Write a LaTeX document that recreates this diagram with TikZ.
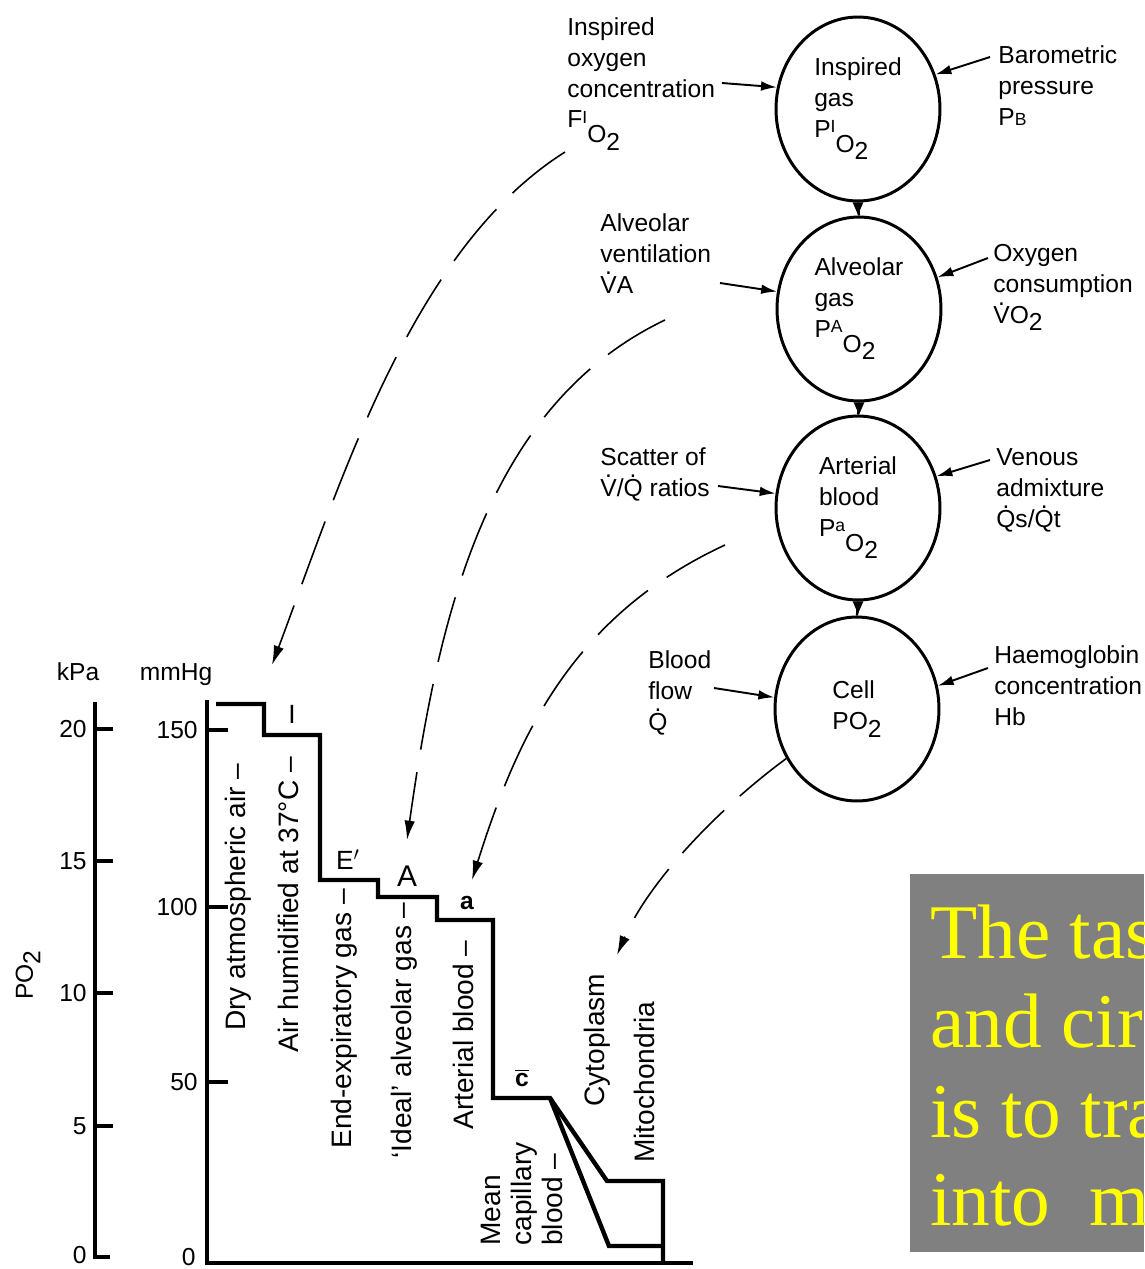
\documentclass[tikz,border=0pt]{standalone}
\usepackage{fontspec}
\setmainfont{Liberation Sans}
\newfontfamily\yelserif{Liberation Serif}
\usetikzlibrary{arrows.meta,shapes.geometric}
\definecolor{boxgray}{RGB}{128,128,128}
\definecolor{yeltext}{RGB}{255,255,0}
\newcommand{\dt}[1]{\ooalign{#1\cr\hidewidth\smash{\raisebox{0.74em}{.}}\hidewidth\cr}}
\newcommand{\Otwo}{O\raisebox{-0.3em}{2}}
\newcommand{\lowOtwo}{\raisebox{-0.6em}{\Otwo}}
\newcommand{\smc}[1]{{\fontsize{10}{10}\selectfont #1}}
\newcommand{\smcup}[1]{\raisebox{2.8pt}{\smc{#1}}}
\begin{document}
\begin{tikzpicture}[x=0.02cm,y=-0.02cm,
  lab/.style={font=\fontsize{14}{17.6}\selectfont, align=left, anchor=north west, inner sep=0pt},
  rlab/.style={font=\fontsize{16}{17}\selectfont, rotate=90, anchor=west, inner sep=0pt},
  tick/.style={font=\fontsize{14}{16}\selectfont, anchor=east, inner sep=0pt},
  steplab/.style={font=\fontsize{15}{16}\selectfont, inner sep=0pt},
  bubble/.style={ellipse, draw, line width=1.7pt, minimum width=3.28cm, minimum height=3.68cm, inner sep=0pt,
     font=\fontsize{14}{17.6}\selectfont, align=left},
  inarrow/.style={line width=1.1pt, -{Latex[length=9pt,width=5.5pt]}},
  dcurve/.style={line width=0.9pt, dash pattern=on 38pt off 13pt, -{Latex[length=11pt,width=6pt]}},
  axis/.style={line width=2pt},
  stair/.style={line width=2.5pt, line join=miter}
]
\useasboundingbox (0,0) rectangle (1144,1269);

% ---------- bubbles ----------
\node[bubble] (c1) at (858,109) {Inspired\\gas\\P\smcup{I}\lowOtwo};
\node[bubble] (c2) at (859,309) {Alveolar\\gas\\P\smcup{A}\lowOtwo};
\node[bubble] (c3) at (858,508) {Arterial\\blood\\P\raisebox{3pt}{\smc{a}}\lowOtwo};
\node[bubble] (c4) at (857,709) {Cell\\P\Otwo};

\foreach \a/\b in {c1/c2,c2/c3,c3/c4}{
  \draw[line width=1.3pt] (\a.south) -- (\b.north);
  \fill ([xshift=-3pt]\a.south) -- ([xshift=3pt]\a.south) -- ([yshift=-7pt]\a.south) -- cycle;
}

% ---------- side labels ----------
\node[lab] (fio) at (567,17) {Inspired\\oxygen\\concentration\\F\smcup{I}\lowOtwo};
\node[lab] (pb) at (998,45) {Barometric\\pressure\\P\smc{B}};
\node[lab] (va) at (600,213) {Alveolar\\ventilation\\\dt{V}A};
\node[lab] (vo) at (993,244) {Oxygen\\consumption\\\dt{V}\Otwo};
\node[lab] (vq) at (600,447) {Scatter of\\\dt{V}/\dt{Q} ratios};
\node[lab] (qs) at (996,448) {Venous\\admixture\\\dt{Q}s/\dt{Q}t};
\node[lab] (bf) at (648,650) {Blood\\flow\\\dt{Q}};
\node[lab] (hb) at (994,645) {Haemoglobin\\concentration\\Hb};

\coordinate (a1) at (722,83);
\coordinate (a2) at (990,57);
\coordinate (a3) at (720,283);
\coordinate (a4) at (988,258);
\coordinate (a5) at (718,486);
\coordinate (a6) at (990,460);
\coordinate (a7) at (714,688);
\coordinate (a8) at (988,668);
\draw[inarrow] (a1) -- (c1.165);
\draw[inarrow] (a2) -- (c1.24);
\draw[inarrow] (a3) -- (c2.168);
\draw[inarrow] (a4) -- (c2.22);
\draw[inarrow] (a5) -- (c3.170);
\draw[inarrow] (a6) -- (c3.22);
\draw[inarrow] (a7) -- (c4.172);
\draw[inarrow] (a8) -- (c4.16);

% ---------- axes ----------
\node[font=\fontsize{14}{16}\selectfont, inner sep=0pt] (kpa) at (78,672) {kPa};
\node[font=\fontsize{14}{16}\selectfont, inner sep=0pt] (mmhg) at (176,675) {mmHg};
\node[font=\fontsize{14}{16}\selectfont, rotate=90, inner sep=0pt] (po2) at (28,975) {P\Otwo};

\draw[axis] (95,702) -- (95,1257) -- (110,1257);
\foreach \yy/\lab in {729/20,861/15,993/10,1126/5}{
  \draw[axis] (95,\yy) -- (113,\yy);
  \node[tick] at (87,\yy) {\lab};
}
\node[tick] at (87,1255) {0};

\draw[axis] (207,700) -- (207,1263) -- (693,1263);
\foreach \yy/\lab in {730/150,907/100,1082/50}{
  \draw[axis] (207,\yy) -- (228,\yy);
  \node[tick] at (198,\yy) {\lab};
}
\node[tick] at (196,1257) {0};

% ---------- staircase ----------
\draw[stair] (216,704) -- (264,704) -- (264,735) -- (320,735) -- (320,880) -- (378,880) -- (378,897)
  -- (437,897) -- (437,920) -- (493,920) -- (493,1098) -- (550,1098) -- (607,1181) -- (663,1181) -- (663,1263);
\draw[stair] (550,1098) -- (609,1246) -- (663,1246);

% level letters
\node[steplab] (lI) at (292,714) {I};
\node[steplab] (lE) at (348,860) {E$'$};
\node[steplab,font=\fontsize{17}{18}\selectfont] (lA) at (407,876) {A};
\node[steplab,font=\bfseries\fontsize{14}{16}\selectfont] (la) at (467,903) {a};
\node[steplab,font=\bfseries\fontsize{14}{16}\selectfont] (lc) at (522,1078) {$\overline{\mbox{c}}$};

% rotated labels
\node[rlab] (t1) at (238,1031) {Dry atmospheric air --};
\node[rlab] (t2) at (288,1053) {Air humidified at 37°C --};
\node[rlab] (t3) at (344,1149) {End-expiratory gas --};
\node[rlab] (t4) at (404,1159) {‘Ideal’ alveolar gas --};
\node[rlab] (t5) at (463,1130) {Arterial blood --};
\node[font=\fontsize{16}{17.5}\selectfont, rotate=90, anchor=north west, align=left, inner sep=0pt] (t6) at (481,1246) {Mean\\capillary\\blood --};
\node[rlab] (t7) at (597,1107) {Cytoplasm};
\node[rlab] (t8) at (644,1163) {Mitochondria};

% ---------- dashed curves ----------
\coordinate (s1) at (565,152);
\coordinate (e1) at (272,665);
\coordinate (s2) at (665,320);
\coordinate (e2) at (407,840);
\coordinate (s3) at (725,545);
\coordinate (e3) at (472,880);
\coordinate (e4) at (617,955);
\draw[dcurve] (s1) .. controls (413,248) and (342,478) .. (e1);
\draw[dcurve] (s2) .. controls (485,406) and (438,620) .. (e2);
\draw[dcurve] (s3) .. controls (572,616) and (517,737) .. (e3);
\draw[dcurve, dash pattern=on 34pt off 12pt] (c4.215) .. controls (719,808) and (649,881) .. (e4);

% ---------- grey box ----------
\fill[boxgray] (910,874) rectangle (1144,1252);
\begin{scope}
\clip (910,874) rectangle (1144,1252);
\node[font=\yelserif\fontsize{44}{50}\selectfont, text=yeltext, anchor=base west, inner sep=0pt] (y1) at (930,958) {The task};
\node[font=\yelserif\fontsize{44}{50}\selectfont, text=yeltext, anchor=base west, inner sep=0pt] (y2) at (930,1047) {and circ};
\node[font=\yelserif\fontsize{44}{50}\selectfont, text=yeltext, anchor=base west, inner sep=0pt] (y3) at (930,1137) {is to tra};
\node[font=\yelserif\fontsize{44}{50}\selectfont, text=yeltext, anchor=base west, inner sep=0pt] (y4) at (930,1225) {into\ \ mi};
\end{scope}
\end{tikzpicture}
\end{document}
